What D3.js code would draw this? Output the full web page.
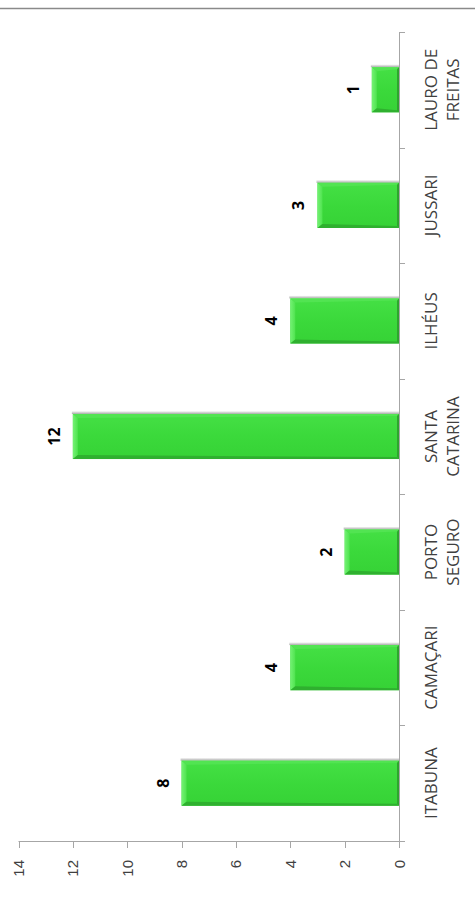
<!DOCTYPE html>
<html>
<head>
<meta charset="utf-8">
<script src="https://cdn.jsdelivr.net/npm/d3@7"></script>
<style>
  body { margin: 0; background: #fff; }
  svg { display: block; }
</style>
</head>
<body>
<svg id="chart"></svg>
<script>
var width = 475,
    height = 898;

// data
var categories = ["ITABUNA", "CAMAÇARI", "PORTO\nSEGURO", "SANTA\nCATARINA", "ILHÉUS", "JUSSARI", "LAURO DE\nFREITAS"];
var values = [8, 4, 2, 12, 4, 3, 1];
var tickValues = [0, 2, 4, 6, 8, 10, 12, 14];

var axisX = 399,   // category axis (value 0)
    plotTop = 32,
    plotBottom = 841;

var svg = d3.select('#chart')
            .attr('width', width)
            .attr('height', height);

var defs = svg.append('defs');
var grad = defs.append('linearGradient')
    .attr('id', 'barGrad')
    .attr('x1', 0).attr('y1', 0).attr('x2', 0).attr('y2', 1);
grad.append('stop').attr('offset', '0%').attr('stop-color', '#45e045');
grad.append('stop').attr('offset', '50%').attr('stop-color', '#3bd93b');
grad.append('stop').attr('offset', '100%').attr('stop-color', '#36d236');

var endGrad = defs.append('linearGradient')
    .attr('id', 'endGrad')
    .attr('x1', 0).attr('y1', 0).attr('x2', 1).attr('y2', 0);
endGrad.append('stop').attr('offset', '0%').attr('stop-color', '#74f274');
endGrad.append('stop').attr('offset', '100%').attr('stop-color', '#4fe34f');

var shadowGrad = defs.append('linearGradient')
    .attr('id', 'shadowGrad')
    .attr('x1', 0).attr('y1', 0).attr('x2', 0).attr('y2', 1);
shadowGrad.append('stop').attr('offset', '0%').attr('stop-color', '#ffffff');
shadowGrad.append('stop').attr('offset', '100%').attr('stop-color', '#a8a8a8');

// top rule
svg.append('line')
   .attr('x1', 0).attr('x2', width)
   .attr('y1', 8.5).attr('y2', 8.5)
   .attr('stroke', '#8a8a8a')
   .attr('stroke-width', 1.5);

var x = d3.scaleLinear()
          .domain([0, 14])
          .range([axisX, 18.5]);

var y = d3.scaleBand()
          .domain(categories)
          .range([plotBottom, plotTop])
          .paddingInner(0.61)
          .paddingOuter(0.305);

var step = y.step();

// value axis (bottom)
var gx = svg.append('g').attr('class', 'xaxis');
gx.append('line')
  .attr('x1', x(14)).attr('x2', axisX + 6)
  .attr('y1', plotBottom + 0.5).attr('y2', plotBottom + 0.5)
  .attr('stroke', '#a6a6a6');
gx.selectAll('.tick')
  .data(tickValues)
  .enter()
  .append('line')
  .attr('x1', d => Math.round(x(d)) + 0.5)
  .attr('x2', d => Math.round(x(d)) + 0.5)
  .attr('y1', plotBottom)
  .attr('y2', plotBottom + 7)
  .attr('stroke', '#a6a6a6');
gx.selectAll('.tlabel')
  .data(tickValues)
  .enter()
  .append('text')
  .attr('transform', d => 'translate(' + (x(d) + 5.5) + ',' + (plotBottom + 19) + ') rotate(-90)')
  .attr('text-anchor', 'end')
  .style('font-family', '"Liberation Sans", Arial, sans-serif')
  .style('font-size', '15px')
  .style('fill', '#404040')
  .text(d => d);

// category axis (right)
var gy = svg.append('g').attr('class', 'yaxis');
gy.append('line')
  .attr('x1', axisX + 0.5).attr('x2', axisX + 0.5)
  .attr('y1', plotTop).attr('y2', plotBottom)
  .attr('stroke', '#a6a6a6');
var boundaries = categories.map(c => y(c) - y.paddingOuter() * step + step);
boundaries.push(plotTop);
gy.selectAll('.ctick')
  .data(boundaries)
  .enter()
  .append('line')
  .attr('x1', axisX)
  .attr('x2', axisX + 6)
  .attr('y1', d => Math.round(d) + 0.5)
  .attr('y2', d => Math.round(d) + 0.5)
  .attr('stroke', '#a6a6a6');

var clabels = gy.selectAll('.clabel')
  .data(categories)
  .enter()
  .append('text')
  .attr('transform', d => 'translate(' + (axisX + 38) + ',' + (y(d) + y.bandwidth() / 2) + ') rotate(-90)')
  .attr('text-anchor', 'middle')
  .style('font-family', '"Open Sans", sans-serif')
  .style('font-size', '17px')
  .style('fill', '#404040');
clabels.each(function(d) {
  var lines = d.split('\n');
  var t = d3.select(this);
  lines.forEach(function(l, i) {
    t.append('tspan')
     .attr('x', 0)
     .attr('y', i * 22)
     .text(l);
  });
});

// bars
var bars = svg.selectAll('.bar')
  .data(categories.map((c, i) => ({cat: c, val: values[i]})))
  .enter()
  .append('g')
  .attr('class', 'bar');

var bev = 4;
bars.append('rect')
  .attr('x', d => x(d.val) - 1)
  .attr('y', d => y(d.cat) - 3)
  .attr('width', d => axisX - x(d.val) + 1)
  .attr('height', 3)
  .attr('fill', 'url(#shadowGrad)');

bars.append('rect')
  .attr('x', d => x(d.val))
  .attr('y', d => y(d.cat))
  .attr('width', d => axisX - x(d.val))
  .attr('height', y.bandwidth())
  .attr('fill', 'url(#barGrad)');

// left (end) bevel
bars.append('path')
  .attr('fill', 'url(#endGrad)')
  .attr('d', function(d) {
    var x0 = x(d.val), y0 = y(d.cat), h = y.bandwidth();
    return 'M' + x0 + ',' + y0 + 'L' + (x0 + bev + 1) + ',' + (y0 + bev) +
           'L' + (x0 + bev + 1) + ',' + (y0 + h - bev) + 'L' + x0 + ',' + (y0 + h) + 'Z';
  });
// top bevel
bars.append('path')
  .attr('fill', '#52e452')
  .attr('d', function(d) {
    var x0 = x(d.val), y0 = y(d.cat);
    return 'M' + x0 + ',' + y0 + 'L' + axisX + ',' + y0 +
           'L' + (axisX - 2) + ',' + (y0 + 2) + 'L' + (x0 + bev + 1) + ',' + (y0 + bev) + 'Z';
  });
// bottom bevel
bars.append('path')
  .attr('fill', '#2fb02f')
  .attr('d', function(d) {
    var x0 = x(d.val), y1 = y(d.cat) + y.bandwidth();
    return 'M' + x0 + ',' + y1 + 'L' + axisX + ',' + y1 +
           'L' + (axisX - 2) + ',' + (y1 - 2) + 'L' + (x0 + bev + 1) + ',' + (y1 - bev) + 'Z';
  });
// right (base) edge
bars.append('path')
  .attr('fill', '#2ea52e')
  .attr('d', function(d) {
    var y0 = y(d.cat), h = y.bandwidth();
    return 'M' + axisX + ',' + y0 + 'L' + axisX + ',' + (y0 + h) +
           'L' + (axisX - 2) + ',' + (y0 + h - 2) + 'L' + (axisX - 2) + ',' + (y0 + 2) + 'Z';
  });

// value labels
bars.append('text')
  .attr('transform', d => 'translate(' + (x(d.val) - 13) + ',' + (y(d.cat) + y.bandwidth() / 2) + ') rotate(-90)')
  .attr('text-anchor', 'middle')
  .style('font-family', '"Open Sans", sans-serif')
  .style('font-weight', 'bold')
  .style('font-size', '16px')
  .style('fill', '#000')
  .text(d => d.val);
</script>
</body>
</html>
